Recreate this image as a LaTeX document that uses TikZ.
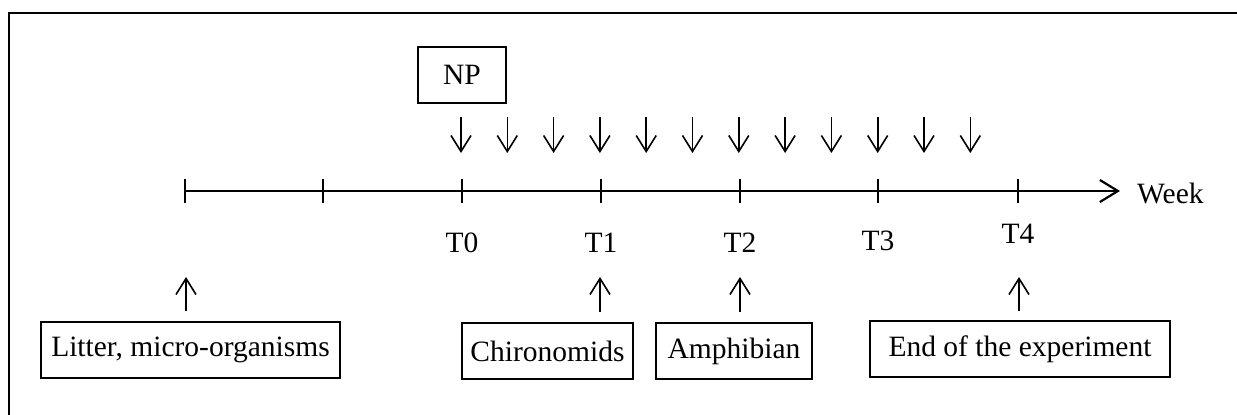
\documentclass[tikz,border=0pt]{standalone}
\usepackage{fontspec}
\setmainfont{Liberation Serif}
\usetikzlibrary{arrows.meta}
\begin{document}
\begin{tikzpicture}[x=1pt,y=-1pt,
  lbl/.style={font=\fontsize{29.5}{31}\selectfont, inner sep=0pt},
  labelbox/.style={draw, line width=2.4pt, font=\fontsize{29.5}{31}\selectfont, inner sep=0pt, minimum height=56pt},
  barb/.style={-{Straight Barb[length=16pt,width=20pt,line width=1.6pt]}, line width=1.6pt},
  axis/.style={line width=2.4pt},
  tick/.style={line width=2.4pt},
  frame/.style={line width=2.4pt}]
\useasboundingbox (0,0) rectangle (1237,415);
% outer frame (top and left edges)
\draw[frame] (9,415) -- (9,13) -- (1237,13);
% time axis
\coordinate (a0) at (185,191);
\coordinate (aend) at (1120,191);
\draw[axis,-{Straight Barb[length=18pt,width=22pt,line width=2.2pt]}] (a0) -- (aend);
\node[lbl, anchor=west] (week) at (1137,193) {Week};
% ticks
\foreach \i/\x in {0/185,1/323,2/462,3/601,4/740,5/878,6/1018}{
  \coordinate (t\i) at (\x,191);
  \draw[tick] (\x,179) -- (\x,203);
}
% tick labels
\node[lbl] (T0) at (462,243) {T0};
\node[lbl] (T1) at (601,243) {T1};
\node[lbl] (T2) at (740,243) {T2};
\node[lbl] (T3) at (878,241) {T3};
\node[lbl] (T4) at (1018,234) {T4};
% NP box
\node[labelbox, minimum width=88pt] (NP) at (462,75) {NP};
% NP additions (down arrows)
\foreach \k in {0,...,11}{
  \pgfmathsetmacro{\xx}{461+46.3*\k}
  \coordinate (ds\k) at (\xx,117);
  \coordinate (de\k) at (\xx,153);
  \draw[barb] (ds\k) -- (de\k);
}
% bottom boxes
\node[labelbox, minimum width=299pt] (litter) at (190.5,350) {Litter, micro-organisms};
\node[labelbox, minimum width=171pt] (chiro) at (547.5,351) {Chironomids};
\node[labelbox, minimum width=156pt] (amph) at (734,351) {Amphibian};
\node[labelbox, minimum width=300pt] (endx) at (1020,349) {End of the experiment};
% up arrows
\coordinate (u0) at (186,277);
\coordinate (u1) at (600,277);
\coordinate (u2) at (740,277);
\coordinate (u3) at (1019,277);
\draw[barb] ([yshift=10pt]litter.north -| u0) -- (u0);
\draw[barb] ([yshift=10pt]chiro.north -| u1) -- (u1);
\draw[barb] ([yshift=10pt]amph.north -| u2) -- (u2);
\draw[barb] ([yshift=9pt]endx.north -| u3) -- (u3);
\end{tikzpicture}
\end{document}
